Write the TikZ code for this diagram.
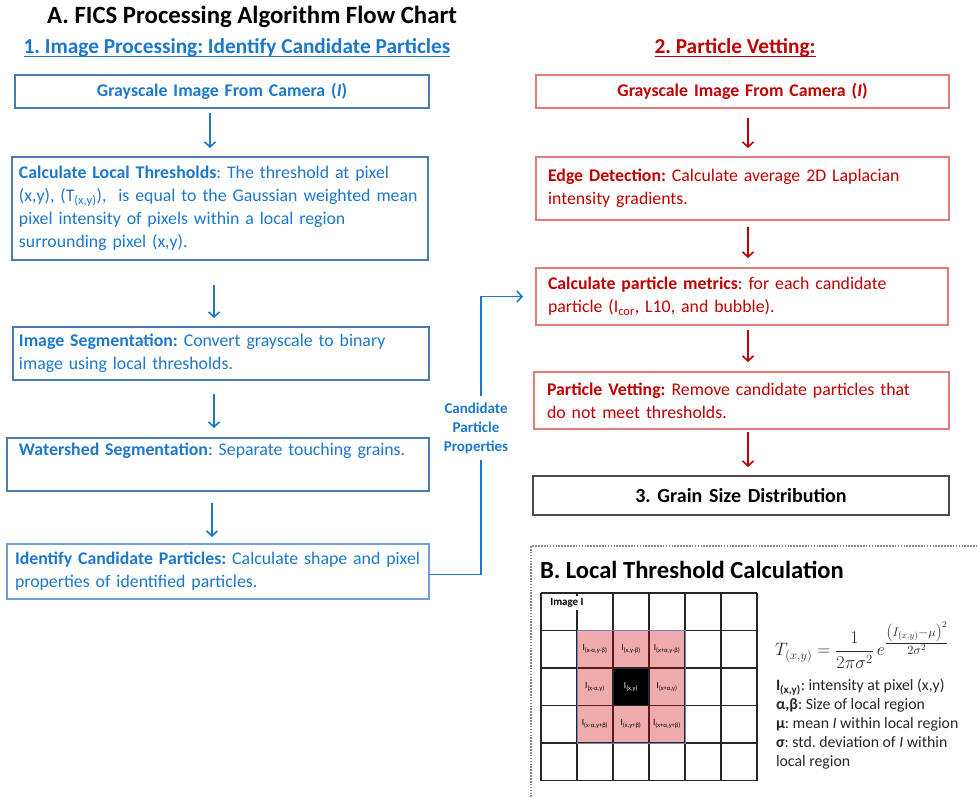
\RequirePackage{fix-cm}
\documentclass[tikz,border=0pt]{standalone}
\usepackage{amsmath}
\usepackage{fontspec}
\setmainfont{Carlito}
\usetikzlibrary{arrows.meta,calc}
\frenchspacing

\definecolor{bluetxt}{RGB}{28,120,202}
\definecolor{blueedge}{RGB}{74,122,176}
\definecolor{blueedgelt}{RGB}{112,160,215}
\definecolor{redtxt}{RGB}{192,0,0}
\definecolor{rededge}{RGB}{228,122,122}
\definecolor{pinkcell}{RGB}{240,172,172}
\definecolor{cellline}{RGB}{95,25,25}
\definecolor{regionedge}{RGB}{110,132,185}

\begin{document}
\begin{tikzpicture}[x=1pt,y=-1pt,
  every node/.style={inner sep=0pt, outer sep=0pt},
  box/.style={draw, line width=1.3pt, anchor=north west, align=left,
    font=\fontsize{17.8}{23}\selectfont},
  bbox/.style={box, draw=blueedge, text=bluetxt},
  rbox/.style={box, draw=rededge, text=redtxt},
  flowarrow/.style={line width=1.6pt,
    -{Straight Barb[length=5pt,width=11pt,line width=1.6pt]}},
  barrow/.style={flowarrow, draw=bluetxt},
  rarrow/.style={flowarrow, draw=redtxt},
  gridline/.style={line width=1.4pt, draw=black!85},
  celllabel/.style={font=\fontsize{9.3}{10}\selectfont},
  legendtext/.style={anchor=north west, align=left,
    font=\fontsize{15.8}{19}\selectfont, text=black!85}
]
\useasboundingbox (0,0) rectangle (977,797);

% ---------- headings ----------
\node[font=\fontsize{24.8}{28}\bfseries, text=black] (titleA) at (252,17)
  {A. FICS Processing Algorithm Flow Chart};
\node[font=\fontsize{21.3}{24}\bfseries, text=bluetxt] (head1) at (237,48)
  {1. Image Processing: Identify Candidate Particles};
\node[font=\fontsize{21.3}{24}\bfseries, text=redtxt] (head2) at (735,48)
  {2. Particle Vetting:};
\draw[line width=1.4pt, draw=bluetxt]
  ($(head1.base west)+(0,3)$) -- ($(head1.base east)+(0,3)$);
\draw[line width=1.4pt, draw=redtxt]
  ($(head2.base west)+(0,3)$) -- ($(head2.base east)+(0,3)$);

% ---------- column 1: image processing ----------
\node[bbox, align=center, minimum width=414, minimum height=33, inner xsep=7,
  text width=400] (b1) at (15,75)
  {\textbf{Grayscale Image From Camera (\textit{I})}};
\node[bbox, minimum width=416, minimum height=103, inner xsep=7,
  text width=402] (b2) at (12,157)
  {\textbf{Calculate Local Thresholds}: The threshold at pixel\\
   (x,y), (T\textsubscript{(x,y)}),\ \ is equal to the Gaussian weighted mean\\
   pixel intensity of pixels within a local region\\
   surrounding pixel (x,y).};
\node[bbox, minimum width=416, minimum height=53, inner xsep=6,
  text width=404] (b3) at (13,327)
  {\textbf{Image Segmentation:} Convert grayscale to binary\\
   image using local thresholds.};
\node[bbox, minimum width=422, minimum height=53, inner xsep=12,
  text width=398] (b4) at (7,438)
  {\textbf{Watershed Segmentation}: Separate touching grains.\\ \strut};
\node[bbox, draw=blueedgelt, minimum width=422, minimum height=55, inner xsep=8,
  text width=406] (b5) at (7,544)
  {\textbf{Identify Candidate Particles:} Calculate shape and pixel\\
   properties of identified particles.};

\coordinate (lxa) at (210,0);
\coordinate (lxb) at (214,0);
\coordinate (lxc) at (212,0);
\draw[barrow, shorten <=5pt, shorten >=9pt]  (b1.south -| lxa) -- (b2.north -| lxa);
\draw[barrow, shorten <=25pt, shorten >=9pt] (b2.south -| lxb) -- (b3.north -| lxb);
\draw[barrow, shorten <=14pt, shorten >=10pt] (b3.south -| lxb) -- (b4.north -| lxb);
\draw[barrow, shorten <=12pt, shorten >=7pt] (b4.south -| lxc) -- (b5.north -| lxc);

% ---------- column 2: particle vetting ----------
\node[rbox, align=center, minimum width=413, minimum height=33, inner xsep=7,
  text width=399] (r1) at (536,75)
  {\textbf{Grayscale Image From Camera (\textit{I})}};
\node[rbox, minimum width=413, minimum height=63, inner xsep=12,
  text width=389] (r2) at (536,157)
  {\textbf{Edge Detection:} Calculate average 2D Laplacian\\
   intensity gradients.};
\node[rbox, minimum width=412, minimum height=57, inner xsep=12,
  text width=388] (r3) at (536,268)
  {\textbf{Calculate particle metrics}: for each candidate\\
   particle (I\textsubscript{cor}, L10, and bubble).};
\node[rbox, minimum width=415, minimum height=57, inner xsep=13,
  text width=389] (r4) at (534,372)
  {\textbf{Particle Vetting:} Remove candidate particles that\\
   do not meet thresholds.};
\node[box, draw=black!70, text=black, align=center, minimum width=416,
  minimum height=39, text width=400, inner xsep=8,
  font=\fontsize{20}{24}\bfseries] (r5) at (533,476)
  {3. Grain Size Distribution};

\coordinate (rx) at (748,0);
\draw[rarrow, shorten <=10pt, shorten >=9pt]  (r1.south -| rx) -- (r2.north -| rx);
\draw[rarrow, shorten <=7pt, shorten >=10pt]  (r2.south -| rx) -- (r3.north -| rx);
\draw[rarrow, shorten <=5pt, shorten >=10pt]  (r3.south -| rx) -- (r4.north -| rx);
\draw[rarrow, shorten <=3pt, shorten >=9pt]   (r4.south -| rx) -- (r5.north -| rx);

% ---------- hand-over between the two stages ----------
\node[align=center, inner ysep=7pt, font=\fontsize{15}{19}\bfseries,
  text=bluetxt] (cpp) at (476,428) {Candidate\\Particle\\Properties};
\coordinate (vx) at (481,0);
\draw[line width=1.6pt, draw=bluetxt] ($(b5.east)+(0,3)$) -- ($(b5.east -| vx)+(0,3)$)
  -- (cpp.south -| vx);
\draw[barrow, shorten >=13pt] (cpp.north -| vx) |- (r3.west);

% ---------- panel B: local threshold ----------
\draw[line width=1.3pt, draw=black!45, dash pattern=on 1.6pt off 1.3pt]
  (531,797) -- (531,546) -- (977,546);
\node[anchor=west, font=\fontsize{24.6}{28}\bfseries, text=black] (titleB)
  at (540,570) {B. Local Threshold Calculation};

% pixel grid
\fill[pinkcell] (577,630.5) rectangle (685,743);
\fill[black] (613,668) rectangle (649,705.5);
\foreach \i in {0,...,6}
  \draw[gridline] (541+36*\i,593) -- (541+36*\i,780.5);
\foreach \j in {0,...,5}
  \draw[gridline] (541,593+37.5*\j) -- (757,593+37.5*\j);
\draw[line width=1.2pt, draw=cellline] (613,630.5) -- (613,668) (649,630.5) -- (649,668)
  (613,705.5) -- (613,743) (649,705.5) -- (649,743)
  (577,668) -- (613,668) (649,668) -- (685,668)
  (577,705.5) -- (613,705.5) (649,705.5) -- (685,705.5);
\draw[line width=1pt, draw=regionedge] (577,630.5) rectangle (685,743);
\node[fill=white, inner xsep=2pt, inner ysep=2.5pt,
  font=\fontsize{11}{12}\bfseries] (imgI) at (567,603) {Image I};

\node[celllabel] (c11) at (595,649)   {I\textsubscript{(x-α,y-β)}};
\node[celllabel] (c12) at (631,649)   {I\textsubscript{(x,y-β)}};
\node[celllabel] (c13) at (667,649)   {I\textsubscript{(x+α,y-β)}};
\node[celllabel] (c21) at (595,687)   {I\textsubscript{(x-α,y)}};
\node[celllabel, text=white] (c22) at (631,687) {I\textsubscript{(x,y)}};
\node[celllabel] (c23) at (667,687)   {I\textsubscript{(x+α,y)}};
\node[celllabel] (c31) at (595,724)   {I\textsubscript{(x-α,y+β)}};
\node[celllabel] (c32) at (631,724)   {I\textsubscript{(x,y+β)}};
\node[celllabel] (c33) at (667,724)   {I\textsubscript{(x+α,y+β)}};

% threshold formula and legend
\node[anchor=west, font=\fontsize{18}{22}\selectfont, text=black!85] (formula)
  at (775,645)
  {$T_{(x,y)}=\dfrac{1}{2\pi\sigma^2}\,e^{\genfrac{}{}{}{1}{\left(I_{(x,y)}-\mu\right)^2}{2\sigma^2}}$};
\node[legendtext] (legend) at (776,679)
  {\textbf{I\textsubscript{(x,y)}}: intensity at pixel (x,y)\\
   \textbf{α,β}: Size of local region\\
   \textbf{μ}: mean \textit{I} within local region\\
   \textbf{σ}: std. deviation of \textit{I} within\\
   local region};
\end{tikzpicture}
\end{document}
